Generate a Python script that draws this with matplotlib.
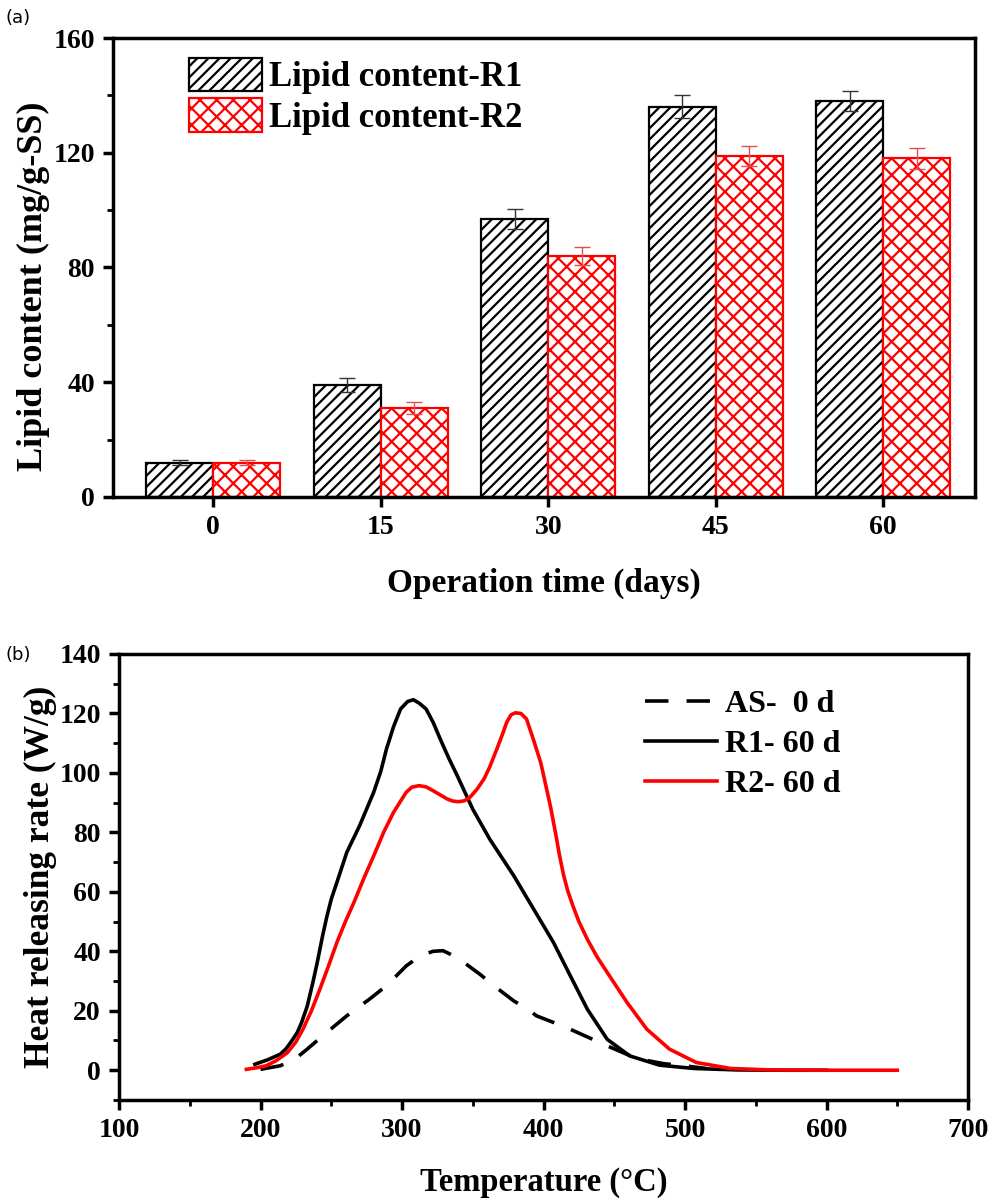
import numpy as np
import matplotlib
matplotlib.use("Agg")
import matplotlib.pyplot as plt
from matplotlib.ticker import MultipleLocator

plt.rcParams["font.family"] = "Liberation Serif"
plt.rcParams["font.weight"] = "bold"
plt.rcParams["axes.labelweight"] = "bold"
plt.rcParams["hatch.linewidth"] = 1.6

# -------------------------------------------------------------------
# Data (a): lipid content
# -------------------------------------------------------------------
days = ["0", "15", "30", "45", "60"]
lipid_r1 = [12, 39, 97, 136, 138]
lipid_r2 = [12, 31, 84, 119, 118]
err_r1 = [1, 2.5, 3.5, 4, 3.5]
err_r2 = [1, 2, 3, 3.5, 3.5]

# -------------------------------------------------------------------
# Data (b): heat releasing rate
# -------------------------------------------------------------------
t_as = [200, 214, 225, 233, 244, 261, 277, 289, 303, 313, 322, 329, 339,
        355, 365, 379, 389, 395, 416, 445, 466, 485, 501, 515]
hr_as = [0.3, 1.5, 4, 7.1, 11.6, 18.3, 23.9, 28.4, 35.1, 38.5, 40, 40.2, 37.9,
         32.3, 28.4, 23.3, 20.5, 18.3, 14.4, 8.2, 3.9, 2.2, 1.4, 0.6]

t_r1 = [196, 205, 214, 218, 222, 226, 229, 233, 235, 237, 240, 244, 247,
        250, 254, 261, 270, 280, 285, 289, 294, 299, 304, 308, 312, 317,
        322, 327, 333, 339, 350, 362, 379, 393, 407, 419, 431, 445, 461,
        482, 506, 537, 570, 600]
hr_r1 = [2.0, 3.5, 5.4, 7.2, 9.8, 12.7, 16, 21.5, 25.5, 29.5, 36, 45.5, 51.9,
         57.5, 63.2, 73.3, 82.2, 93.5, 100.5, 108, 115.5, 121.5, 124, 124.6, 123.5, 121.5,
         117, 111.4, 105, 99.1, 87.8, 77.7, 65.4, 54.2, 43, 31.7, 20.5, 10.4, 4.8,
         1.7, 0.6, 0.1, 0, 0]

t_r2 = [190, 197, 204, 211, 219, 225, 230, 236, 242, 248, 254, 260, 266,
        273, 280, 287, 294, 299, 303, 307, 312, 317, 322, 327, 332, 336,
        340, 344, 348, 353, 358, 362, 367, 371, 374, 377, 380, 384, 388,
        393, 398, 402, 405, 407, 409, 411, 414, 417, 421, 425, 431, 438,
        445, 459, 473, 489, 508, 532, 560, 600, 650]
hr_r2 = [0.3, 0.8, 1.5, 3.2, 5.9, 9.5, 13.8, 20, 27.3, 35, 43, 50, 56.4,
         64.5, 72.1, 80, 86.7, 90.5, 93.5, 95.2, 95.7, 95.3, 94, 92.6, 91.2, 90.5,
         90.3, 90.6, 91.8, 94.5, 98, 102, 108, 113, 117, 119.5, 120.2, 120, 118.1,
         111, 103.5, 95, 88.5, 83.5, 78.5, 73, 66, 60.5, 55, 50, 44, 38,
         32.9, 22.8, 13.8, 7.1, 2.6, 0.6, 0.1, 0, 0]


def style_axes(ax):
    for sp in ax.spines.values():
        sp.set_linewidth(2.5)
    ax.tick_params(which="major", direction="out", length=7, width=2.5,
                   labelsize=20, pad=6)
    ax.tick_params(which="minor", direction="out", length=4, width=2)


fig = plt.figure(figsize=(9.9, 11.99), dpi=100)

# -------------------------------------------------------------------
# (a) bar chart
# -------------------------------------------------------------------
ax1 = fig.add_axes([0.114, 0.5855, 0.871, 0.3828])
x = np.arange(len(days))
w = 0.4
ax1.bar(x - w / 2, lipid_r1, w, color="white", edgecolor="black",
        hatch="///", linewidth=1.6, label="Lipid content-R1", zorder=2)
ax1.bar(x + w / 2, lipid_r2, w, color="white", edgecolor="red",
        hatch="xx", linewidth=1.6, label="Lipid content-R2", zorder=2)
ax1.errorbar(x - w / 2, lipid_r1, yerr=err_r1, fmt="none", ecolor="#333333",
             capsize=6, elinewidth=1, capthick=1, zorder=3)
ax1.errorbar(x + w / 2, lipid_r2, yerr=err_r2, fmt="none", ecolor="#e05050",
             capsize=6, elinewidth=1, capthick=1, zorder=3)

ax1.set_xlim(-0.6, 4.55)
ax1.set_ylim(0, 160)
ax1.set_xticks(x)
ax1.set_xticklabels(days)
ax1.yaxis.set_major_locator(MultipleLocator(40))
ax1.yaxis.set_minor_locator(MultipleLocator(20))
style_axes(ax1)
ax1.set_ylabel("Lipid content (mg/g-SS)", fontsize=26)
ax1.set_xlabel("Operation time (days)", fontsize=24)
ax1.yaxis.set_label_coords(-0.073, 0.46)
ax1.xaxis.set_label_coords(0.5, -0.155)
ax1.legend(loc="upper left", bbox_to_anchor=(0.088, 0.957), frameon=False,
           fontsize=25, handlelength=2.1, handleheight=1.1,
           handletextpad=0.2, labelspacing=0.12, borderpad=0, borderaxespad=0)

# -------------------------------------------------------------------
# (b) heat releasing rate curves
# -------------------------------------------------------------------
ax2 = fig.add_axes([0.1202, 0.0826, 0.8576, 0.372])
ax2.plot(t_as, hr_as, color="black", lw=2.6, ls=(0, (6.5, 5)), label="AS-  0 d")
ax2.plot(t_r1, hr_r1, color="black", lw=2.6, label="R1- 60 d")
ax2.plot(t_r2, hr_r2, color="red", lw=2.6, label="R2- 60 d")

ax2.set_xlim(100, 700)
ax2.set_ylim(-10, 140)
ax2.xaxis.set_major_locator(MultipleLocator(100))
ax2.xaxis.set_minor_locator(MultipleLocator(50))
ax2.yaxis.set_major_locator(MultipleLocator(20))
ax2.yaxis.set_minor_locator(MultipleLocator(10))
style_axes(ax2)
ax2.set_ylabel("Heat releasing rate (W/g)", fontsize=25.5)
ax2.set_xlabel("Temperature (\u00b0C)", fontsize=23.5)
ax2.yaxis.set_label_coords(-0.073, 0.5)
ax2.xaxis.set_label_coords(0.5, -0.15)
ax2.legend(loc="upper left", bbox_to_anchor=(0.62, 0.92), frameon=False,
           fontsize=23, handlelength=2.25, handletextpad=0.25,
           labelspacing=0.33, borderpad=0, borderaxespad=0)

fig.text(0.006, 0.985, "(a)", family="DejaVu Sans", weight="normal",
         fontsize=13, va="center")
fig.text(0.006, 0.454, "(b)", family="DejaVu Sans", weight="normal",
         fontsize=13, va="center")

fig.savefig("out.png", dpi=100)
